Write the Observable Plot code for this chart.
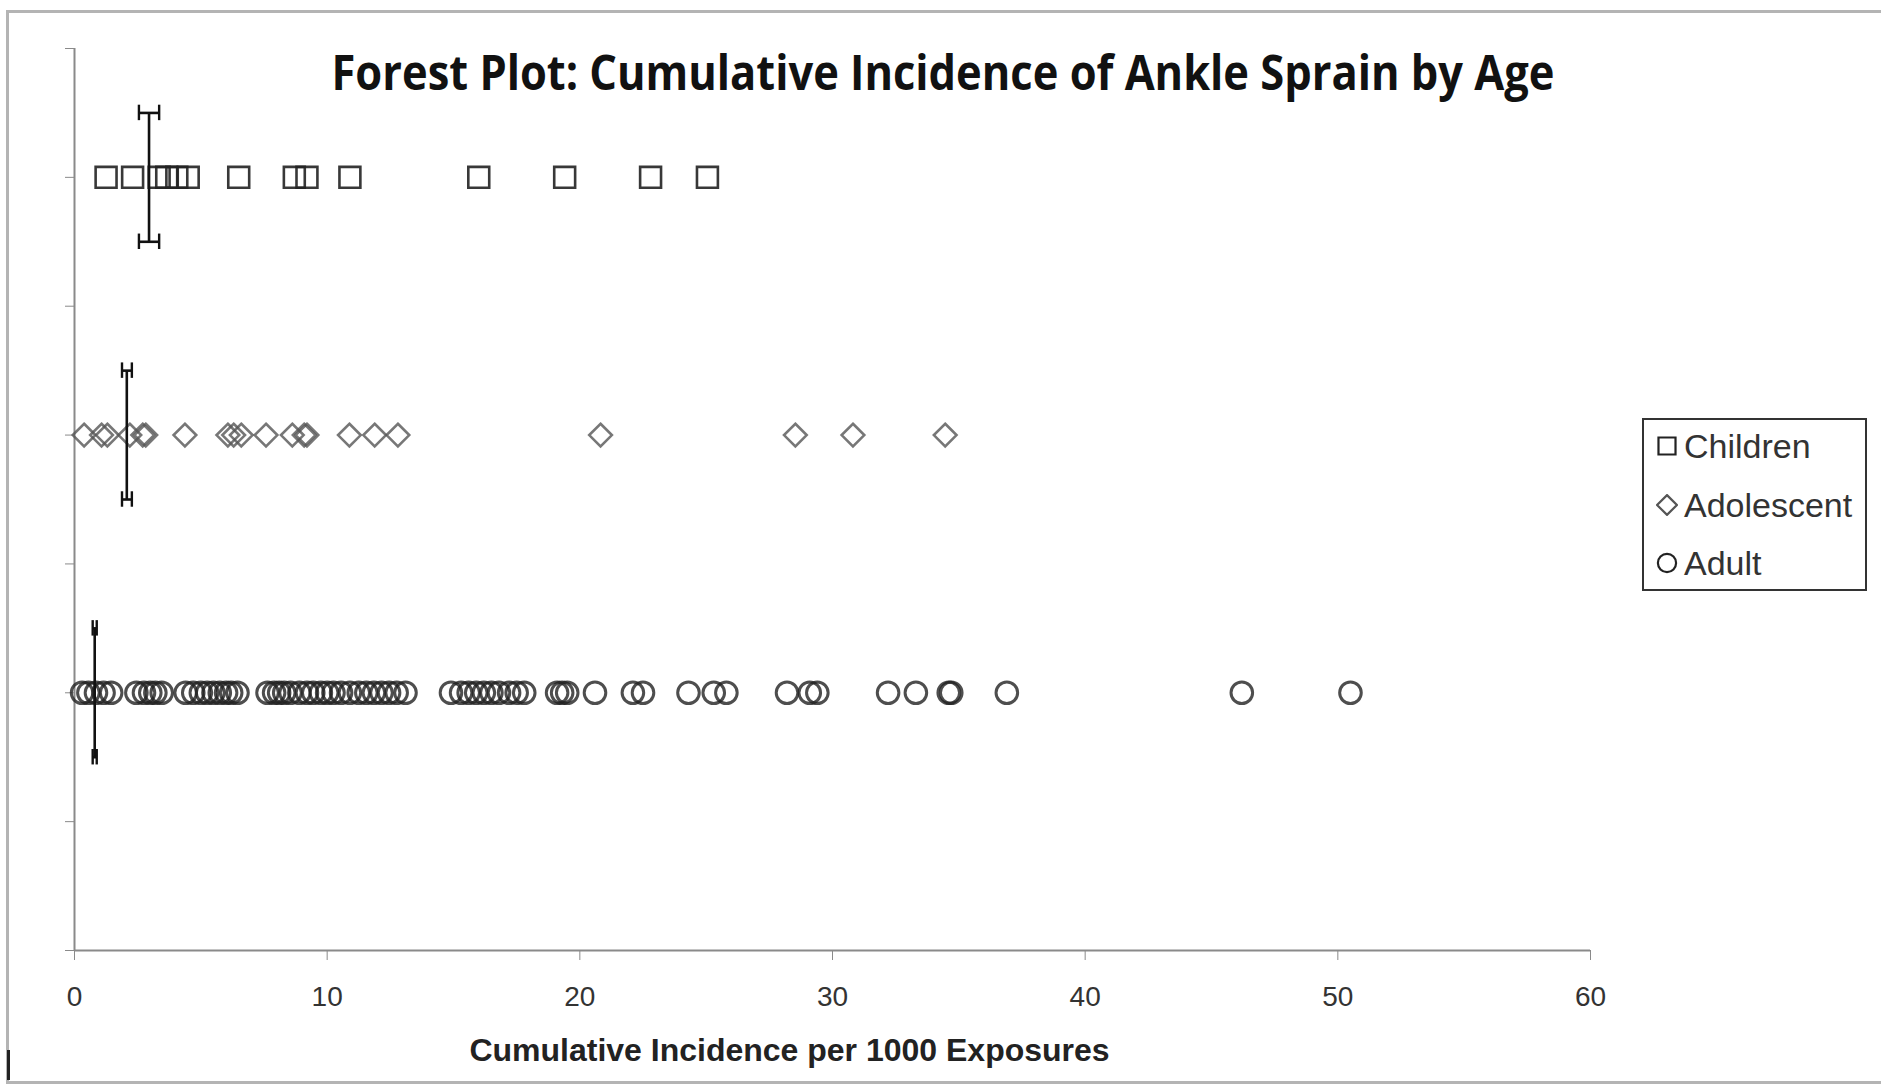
<!DOCTYPE html>
<html><head><meta charset="utf-8">
<script src="https://cdn.jsdelivr.net/npm/d3@7"></script>
<script src="https://cdn.jsdelivr.net/npm/@observablehq/plot@0.6"></script>
<style>
html,body{margin:0;padding:0;background:#fff;width:1881px;height:1086px;overflow:hidden;position:relative;}
#frame{position:absolute;left:6px;top:10px;width:1900px;height:1074px;border:3px solid #b4b4b4;box-sizing:border-box;}
#mark{position:absolute;left:7px;top:1050px;width:3px;height:30px;background:#222;}
#chart{position:absolute;left:0;top:0;}
#title{position:absolute;left:943px;top:44px;white-space:nowrap;font-family:"Open Sans",sans-serif;font-weight:bold;font-size:48px;line-height:56px;color:#111;transform-origin:center;}
#legend{position:absolute;left:1642px;top:418px;width:225px;height:173px;border:2px solid #333;box-sizing:border-box;background:#fff;font-family:"Liberation Sans",sans-serif;font-size:34px;color:#333;}
.row{position:absolute;left:0;height:40px;display:flex;align-items:center;}
.row svg{margin-left:12px;margin-right:6px;}
</style>
</head><body>
<div id="frame"></div>
<div id="mark"></div>
<div id="chart"></div>
<div id="title">Forest Plot: Cumulative Incidence of Ankle Sprain by Age</div>
<div id="legend"></div>
<script>
// ---- data ----
const titleText = "Forest Plot: Cumulative Incidence of Ankle Sprain by Age";
const xLabel = "Cumulative Incidence per 1000 Exposures";
const xTicks = [0, 10, 20, 30, 40, 50, 60];
const yTicks = [0, 1, 2, 3, 4, 5, 6, 7];
const groups = ["Children", "Adolescent", "Adult"];
const groupRows = [6, 4, 2];
const childrenValues = [1.25, 2.3, 3.35, 3.65, 4.05, 4.5, 6.5, 8.7, 9.2, 10.9, 16.0, 19.4, 22.8, 25.05];
const adolescentValues = [0.38, 1.07, 1.3, 2.19, 2.7, 2.82, 4.37, 6.07, 6.3, 6.6, 7.58, 8.62, 9.09, 9.2, 10.88, 11.88, 12.8, 20.82, 28.53, 30.81, 34.46];
const adultValues = [
  0.3, 0.55, 0.85, 1.15, 1.45,
  2.45, 2.75, 3.0, 3.2, 3.45,
  4.4, 4.7, 5.0, 5.25, 5.5, 5.75, 6.0, 6.2, 6.45,
  7.64, 7.9, 8.1, 8.3, 8.55, 8.9, 9.2, 9.45, 9.75, 10.0, 10.25, 10.55, 10.9, 11.25, 11.55, 11.85, 12.15, 12.45, 12.75, 13.1,
  14.9, 15.3, 15.6, 15.9, 16.2, 16.5, 16.8, 17.2, 17.5, 17.8,
  19.1, 19.3, 19.5, 20.6, 22.1, 22.5, 24.3, 25.3, 25.8, 28.2, 29.1, 29.4, 32.2, 33.3, 34.6, 34.7, 36.9, 46.2, 50.5
];
const pooledEstimate = [2.95, 2.07, 0.80];
const pooledLower = [2.55, 1.88, 0.72];
const pooledUpper = [3.35, 2.27, 0.88];
const barHalfHeight = 0.5;

// ---- build tables ----
const seriesValues = [childrenValues, adolescentValues, adultValues];
const studies = groups.flatMap((g, i) => seriesValues[i].map(v => ({group: g, x: v, y: groupRows[i]})));
const pooled = groups.map((g, i) => ({group: g, y: groupRows[i], est: pooledEstimate[i], lo: pooledLower[i], hi: pooledUpper[i]}));
const caps = pooled.flatMap(d => [{...d, yy: d.y - barHalfHeight}, {...d, yy: d.y + barHalfHeight}]);
const capEnds = caps.flatMap(d => [{yy: d.yy, xx: d.lo}, {yy: d.yy, xx: d.hi}]);

const symbolOf = {Children: "square", Adolescent: "diamond2", Adult: "circle"};
const sizeOf = {Children: 11.8, Adolescent: 10.2, Adult: 10.8};
const strokeOf = {Children: "#222", Adolescent: "#555", Adult: "#222"};
const opacityOf = {Children: 0.9, Adolescent: 0.8, Adult: 0.8};
const widthOf = {Children: 2.6, Adolescent: 2.6, Adult: 3};

const chart = Plot.plot({
  width: 1881, height: 1086,
  marginLeft: 74, marginRight: 291, marginTop: 48, marginBottom: 136,
  x: {domain: [0, 60]},
  y: {domain: [0, 7]},
  style: {background: "transparent", fontFamily: "Liberation Sans, sans-serif"},
  marks: [
    Plot.ruleY([0], {stroke: "#8a8a8a", strokeWidth: 2}),
    Plot.ruleX([0], {stroke: "#8a8a8a", strokeWidth: 2}),
    Plot.axisX({ticks: xTicks, tickSize: 10, tickPadding: 26, fontSize: 28, stroke: "#8a8a8a", color: "#333", tickFormat: d => String(d), label: null}),
    Plot.axisY({ticks: yTicks, tickSize: 9, tickFormat: () => "", stroke: "#8a8a8a", label: null}),
    ...groups.map(g => Plot.dot(studies.filter(d => d.group === g), {
      x: "x", y: "y", symbol: symbolOf[g], r: sizeOf[g],
      fill: "none", stroke: strokeOf[g], strokeOpacity: opacityOf[g], strokeWidth: widthOf[g]
    })),
    Plot.ruleX(pooled, {x: "est", y1: d => d.y - barHalfHeight, y2: d => d.y + barHalfHeight, stroke: "#111", strokeWidth: 2.6}),
    Plot.ruleY(caps, {y: "yy", x1: "lo", x2: "hi", stroke: "#111", strokeWidth: 2.6}),
    Plot.ruleX(capEnds, {x: "xx", y1: d => d.yy - 0.06, y2: d => d.yy + 0.06, stroke: "#111", strokeWidth: 2.4}),
    Plot.text([xLabel], {text: d => d, frameAnchor: "bottom", dx: -43, dy: 100, fontSize: 32, fontWeight: "bold", fill: "#222", lineAnchor: "middle"})
  ]
});
document.getElementById("chart").appendChild(chart);

// title: fit width to reference span
const t = document.getElementById("title");
t.textContent = titleText;
const w = t.getBoundingClientRect().width;
t.style.transform = `translateX(-50%) scaleX(${1223 / w})`;

// legend
const legend = document.getElementById("legend");
const rowTops = [6, 65, 123];
groups.forEach((g, i) => {
  const row = document.createElement("div");
  row.className = "row";
  row.style.top = rowTops[i] + "px";
  const svg = d3.create("svg").attr("width", 22).attr("height", 22);
  const sym = d3.symbol(g === "Children" ? d3.symbolSquare : g === "Adolescent" ? d3.symbolDiamond2 : d3.symbolCircle, g === "Children" ? 290 : g === "Adolescent" ? 250 : 260);
  svg.append("path").attr("d", sym()).attr("transform", "translate(11,11)").attr("fill", "none").attr("stroke", strokeOf[g]).attr("stroke-width", 2.2);
  row.appendChild(svg.node());
  const label = document.createElement("span");
  label.textContent = g;
  row.appendChild(label);
  legend.appendChild(row);
});
</script>
</body></html>
